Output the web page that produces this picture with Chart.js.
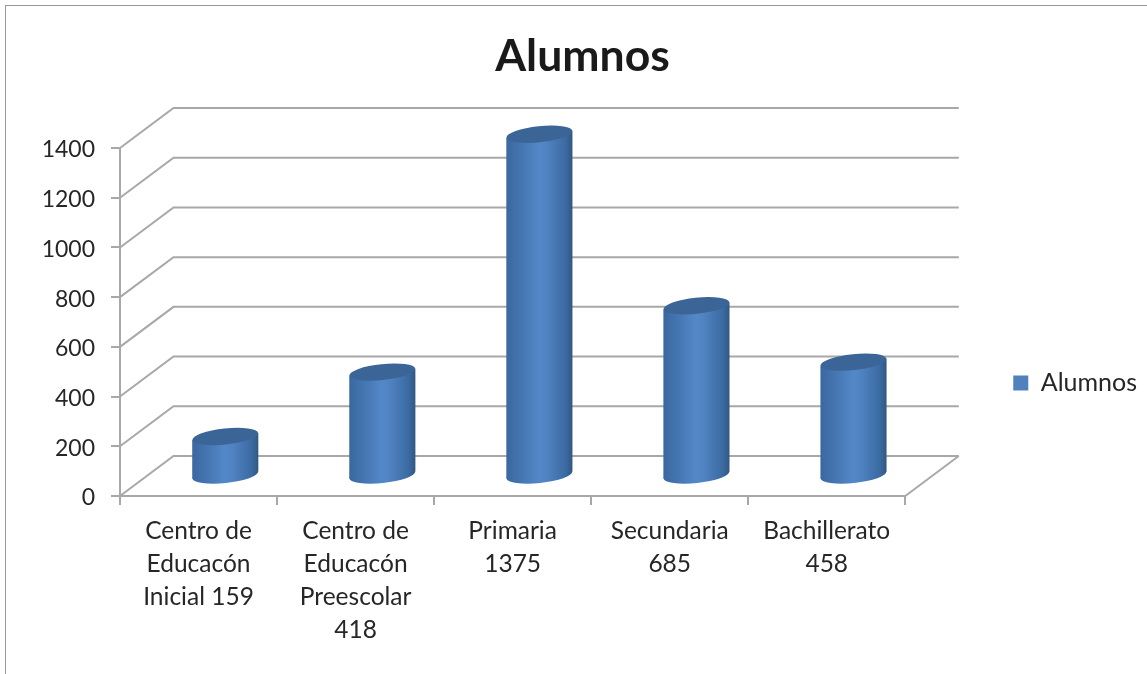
<!DOCTYPE html>
<html>
<head>
<meta charset="utf-8">
<title>Alumnos</title>
<script src="https://cdn.jsdelivr.net/npm/chart.js@4/dist/chart.umd.min.js"></script>
<style>
    html, body { margin: 0; background: #fff; overflow: hidden; }
    #frame { position: absolute; left: 5px; top: 5px; right: 0; bottom: 0; border-left: 1px solid #999; border-top: 1px solid #999; }
    canvas { position: absolute; left: 0; top: 0; filter: blur(0.35px); }
</style>
</head>
<body>
<div id="frame"></div>
<canvas id="alumnos" width="1147" height="674"></canvas>
<script>
const categories = [
    ['Centro de', 'Educacón', 'Inicial 159'],
    ['Centro de', 'Educacón', 'Preescolar', '418'],
    ['Primaria', '1375'],
    ['Secundaria', '685'],
    ['Bachillerato', '458']
];
const seriesName = 'Alumnos';
const alumnos = [159, 418, 1375, 685, 458];
const yMax = 1400;
const yStep = 200;

const gridColor = '#a8a8a8';
const textColor = '#262626';
const fontName = 'Lato, "Open Sans", sans-serif';
// how far the back wall sits behind the front plane
const depthX = 53.5;
const depthY = 40;
const capRadiusY = 8;
const capTilt = 0.105;
// the cylinder is wider than the bar under it, so the bar's square corners stay hidden
const capExtra = 9.5;
const legendShift = 46;

function bodyGradient(ctx, left, right) {
    const g = ctx.createLinearGradient(left, 0, right, 0);
    g.addColorStop(0, '#3a679f');
    g.addColorStop(0.5, '#5388c8');
    g.addColorStop(0.62, '#4f82c0');
    g.addColorStop(0.9, '#3b6aa2');
    g.addColorStop(1, '#31587f');
    return g;
}

const cylinders = {
    id: 'cylinders',
    afterLayout(chart) {
        chart.legend.top += legendShift;
        chart.legend.bottom += legendShift;
    },
    beforeDatasetsDraw(chart) {
        const { ctx, chartArea: area, scales: { y } } = chart;
        // back wall and side wall lines, one per tick
        ctx.save();
        ctx.strokeStyle = gridColor;
        ctx.lineWidth = 2;
        y.ticks.forEach(t => {
            const py = y.getPixelForValue(t.value);
            ctx.beginPath();
            ctx.moveTo(area.left, py);
            ctx.lineTo(area.left + depthX, py - depthY);
            ctx.lineTo(area.right + depthX, py - depthY);
            ctx.stroke();
        });
        const py0 = y.getPixelForValue(0);
        ctx.beginPath();
        ctx.moveTo(area.right, py0);
        ctx.lineTo(area.right + depthX, py0 - depthY);
        ctx.stroke();
        ctx.restore();

        // the bars stand halfway into the floor
        ctx.save();
        ctx.translate(depthX / 2, -depthY / 2);
    },
    afterDatasetsDraw(chart) {
        const { ctx } = chart;
        chart.getDatasetMeta(0).data.forEach(bar => {
            const rx = bar.width / 2 + capExtra;
            const lift = rx * Math.sin(capTilt);
            ctx.fillStyle = bodyGradient(ctx, bar.x - rx, bar.x + rx);
            ctx.beginPath();
            ctx.ellipse(bar.x, bar.base, rx, capRadiusY, -capTilt, 0, Math.PI * 2);
            ctx.fill();
            ctx.beginPath();
            ctx.moveTo(bar.x - rx, bar.y + lift);
            ctx.lineTo(bar.x + rx, bar.y - lift);
            ctx.lineTo(bar.x + rx, bar.base - lift);
            ctx.lineTo(bar.x - rx, bar.base + lift);
            ctx.closePath();
            ctx.fill();
            ctx.fillStyle = '#3c6597';
            ctx.beginPath();
            ctx.ellipse(bar.x, bar.y, rx, capRadiusY, -capTilt, 0, Math.PI * 2);
            ctx.fill();
        });
        ctx.restore();
    }
};

new Chart(document.getElementById('alumnos'), {
    type: 'bar',
    data: {
        labels: categories,
        datasets: [{
            label: seriesName,
            data: alumnos,
            backgroundColor: '#4f81bd',
            borderWidth: 0,
            clip: false,
            barPercentage: 0.3,
            categoryPercentage: 1
        }]
    },
    plugins: [cylinders],
    options: {
        responsive: false,
        animation: false,
        layout: { padding: { left: 18, right: 0, top: 0, bottom: 0 } },
        plugins: {
            title: {
                display: true,
                text: seriesName,
                color: '#1a1a1a',
                font: { family: fontName, size: 44.5, weight: 'bold', lineHeight: 1 },
                padding: { top: 34, bottom: 69.5 }
            },
            legend: {
                position: 'right',
                maxWidth: 252,
                labels: {
                    color: textColor,
                    font: { family: fontName, size: 25 },
                    boxWidth: 15,
                    boxHeight: 15,
                    padding: 108
                }
            },
            tooltip: { enabled: false }
        },
        scales: {
            x: {
                afterFit(scale) { scale.height = 178; },
                grid: { drawOnChartArea: false, color: gridColor, lineWidth: 2, tickLength: 9 },
                border: { color: gridColor, width: 2 },
                ticks: {
                    color: textColor,
                    padding: 10,
                    maxRotation: 0,
                    autoSkip: false,
                    font: { family: fontName, size: 24.5, lineHeight: 1.347 }
                }
            },
            y: {
                min: 0,
                max: yMax,
                afterFit(scale) { scale.width = 102; },
                grid: { drawOnChartArea: false, color: gridColor, lineWidth: 2, tickLength: 9 },
                border: { color: gridColor, width: 2 },
                ticks: {
                    stepSize: yStep,
                    color: textColor,
                    padding: 16,
                    labelOffset: 2,
                    font: { family: fontName, size: 23 },
                    callback: value => String(value)
                }
            }
        }
    }
});
</script>
</body>
</html>
